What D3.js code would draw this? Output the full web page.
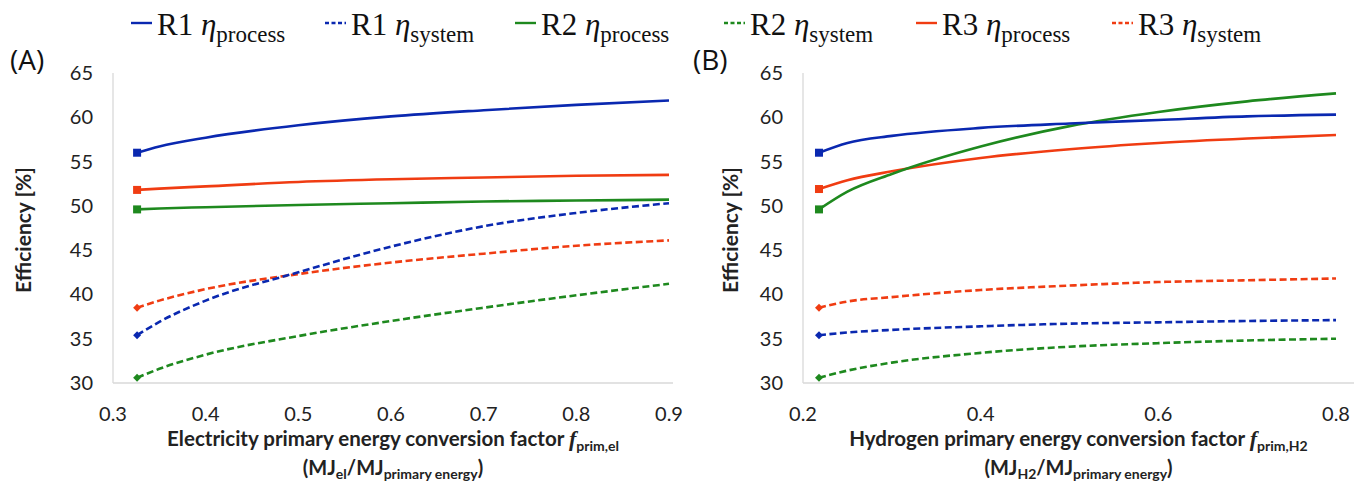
<!DOCTYPE html>
<html><head><meta charset="utf-8">
<script src="https://cdn.jsdelivr.net/npm/d3@7"></script>
<style>
html,body{margin:0;padding:0;background:#fff;}
svg{display:block;}
</style></head>
<body>
<svg id="chart" width="1354" height="487"></svg>
<script>
// ---------- data ----------
const xA = [0.326, 0.35, 0.4, 0.5, 0.6, 0.7, 0.8, 0.9];
const A_R1_process = [56.0, 56.7, 57.7, 59.1, 60.1, 60.8, 61.4, 61.9];
const A_R1_system  = [35.4, 36.9, 39.3, 42.5, 45.4, 47.7, 49.2, 50.3];
const A_R2_process = [49.6, 49.7, 49.85, 50.1, 50.3, 50.5, 50.6, 50.7];
const A_R2_system  = [30.6, 31.6, 33.2, 35.3, 37.0, 38.5, 39.9, 41.2];
const A_R3_process = [51.8, 51.95, 52.2, 52.7, 53.0, 53.2, 53.4, 53.5];
const A_R3_system  = [38.5, 39.3, 40.6, 42.3, 43.6, 44.6, 45.5, 46.1];

const xB = [0.218, 0.25, 0.3, 0.4, 0.5, 0.6, 0.7, 0.8];
const B_R1_process = [56.0, 57.1, 57.9, 58.8, 59.3, 59.7, 60.1, 60.3];
const B_R1_system  = [35.4, 35.7, 36.0, 36.4, 36.7, 36.85, 37.0, 37.1];
const B_R2_process = [49.6, 51.6, 53.6, 56.7, 59.0, 60.6, 61.8, 62.7];
const B_R2_system  = [30.6, 31.4, 32.3, 33.4, 34.1, 34.5, 34.8, 35.0];
const B_R3_process = [51.9, 52.9, 53.9, 55.4, 56.4, 57.1, 57.6, 58.0];
const B_R3_system  = [38.5, 39.2, 39.7, 40.5, 41.0, 41.4, 41.6, 41.8];

const xTicksA = [0.3, 0.4, 0.5, 0.6, 0.7, 0.8, 0.9];
const xTicksB = [0.2, 0.4, 0.6, 0.8];
const yTicks = [30, 35, 40, 45, 50, 55, 60, 65];

const seriesNames = ["R1", "R1", "R2", "R2", "R3", "R3"];
const seriesKinds = ["process", "system", "process", "system", "process", "system"];
const seriesColors = ["#0a28b0", "#0a28b0", "#1e891e", "#1e891e", "#f03c12", "#f03c12"];

// ---------- drawing ----------
const svg = d3.select("#chart");
const tickFont = "Lato, 'Open Sans', sans-serif";

const y = d3.scaleLinear().domain([30, 65]).range([383, 73]);

function panel(cfg) {
  const g = svg.append("g");
  const x = d3.scaleLinear().domain(cfg.xDomain).range(cfg.xRange);
  // axis lines
  g.append("line").attr("x1", cfg.xRange[0]).attr("x2", cfg.xRange[0])
    .attr("y1", y(65)).attr("y2", y(30)).attr("stroke", "#d9d9d9").attr("stroke-width", 1.3);
  g.append("line").attr("x1", cfg.xRange[0]).attr("x2", cfg.axisEnd)
    .attr("y1", y(30)).attr("y2", y(30)).attr("stroke", "#d9d9d9").attr("stroke-width", 1.3);
  // y tick labels
  g.selectAll(".yt").data(yTicks).enter().append("text")
    .attr("x", cfg.xRange[0] - 20).attr("y", d => y(d)).attr("dy", "0.35em")
    .attr("text-anchor", "end").attr("font-family", tickFont).attr("font-size", 20)
    .attr("fill", "#222").text(d => d);
  // x tick labels
  g.selectAll(".xt").data(cfg.xTicks).enter().append("text")
    .attr("x", d => x(d)).attr("y", 414).attr("dy", "0.35em")
    .attr("text-anchor", "middle").attr("font-family", tickFont).attr("font-size", 20)
    .attr("fill", "#222").text(d => d.toFixed(1));
  // y title
  g.append("text").attr("transform", `translate(${cfg.yTitleX},230) rotate(-90)`)
    .attr("text-anchor", "middle").attr("dy", "0.35em")
    .attr("font-family", tickFont).attr("font-weight", "bold").attr("font-size", 21)
    .attr("fill", "#222").text("Efficiency [%]");
  // panel label
  g.append("text").attr("x", cfg.labelX).attr("y", 60).attr("dy", "0.35em")
    .attr("font-family", "'Open Sans', sans-serif").attr("font-size", 28)
    .attr("fill", "#111").text(cfg.label);
  // x title
  const cx = (cfg.xRange[0] + cfg.axisEnd) / 2;
  const t1 = g.append("text").attr("x", cx).attr("y", 446).attr("text-anchor", "middle")
    .attr("font-family", tickFont).attr("font-weight", "bold").attr("font-size", 20.5).attr("fill", "#222");
  t1.append("tspan").text(cfg.title1);
  t1.append("tspan").attr("font-style", "italic").attr("font-family", "'Liberation Serif', serif").attr("font-size", 22).text("f");
  t1.append("tspan").attr("font-size", 14).attr("dy", 5).text(cfg.titleSub);
  const t2 = g.append("text").attr("x", cx).attr("y", 475).attr("text-anchor", "middle")
    .attr("font-family", tickFont).attr("font-weight", "bold").attr("font-size", 20).attr("fill", "#222");
  t2.append("tspan").text("(MJ");
  t2.append("tspan").attr("font-size", 14).attr("dy", 4).text(cfg.unitSub);
  t2.append("tspan").attr("dy", -4).text("/MJ");
  t2.append("tspan").attr("font-size", 14).attr("dy", 4).text("primary energy");
  t2.append("tspan").attr("dy", -4).text(")");

  // lines
  const line = d3.line().x(d => x(d[0])).y(d => y(d[1])).curve(d3.curveMonotoneX);
  const order = [4, 2, 0, 5, 1, 3];
  order.forEach(i => {
    const vals = cfg.series[i];
    const pts = cfg.xs.map((xv, k) => [xv, vals[k]]);
    const dashed = seriesKinds[i] === "system";
    g.append("path").datum(pts).attr("d", line).attr("fill", "none")
      .attr("stroke", seriesColors[i]).attr("stroke-width", 2.6)
      .attr("stroke-dasharray", dashed ? "7,3.5" : null);
    const p0 = pts[0];
    if (dashed) {
      g.append("path").attr("d", d3.symbol(d3.symbolDiamond2, 40)())
        .attr("transform", `translate(${x(p0[0])},${y(p0[1])})`).attr("fill", seriesColors[i]);
    } else {
      g.append("rect").attr("x", x(p0[0]) - 4).attr("y", y(p0[1]) - 4)
        .attr("width", 8).attr("height", 8).attr("fill", seriesColors[i]);
    }
  });
}

panel({
  xDomain: [0.3, 0.9], xRange: [113, 669], axisEnd: 673, xTicks: xTicksA, xs: xA,
  series: [A_R1_process, A_R1_system, A_R2_process, A_R2_system, A_R3_process, A_R3_system],
  yTitleX: 24, label: "(A)", labelX: 10,
  title1: "Electricity primary energy conversion factor ", titleSub: "prim,el", unitSub: "el"
});
panel({
  xDomain: [0.2, 0.8], xRange: [803, 1336], axisEnd: 1354, xTicks: xTicksB, xs: xB,
  series: [B_R1_process, B_R1_system, B_R2_process, B_R2_system, B_R3_process, B_R3_system],
  yTitleX: 731, label: "(B)", labelX: 693,
  title1: "Hydrogen primary energy conversion factor ", titleSub: "prim,H2", unitSub: "H2"
});

// legend
const legendX = [131, 325, 515, 724, 916, 1112];
const lg = svg.append("g");
seriesNames.forEach((nm, i) => {
  const lx = legendX[i];
  lg.append("line").attr("x1", lx).attr("x2", lx + 21).attr("y1", 23).attr("y2", 23)
    .attr("stroke", seriesColors[i]).attr("stroke-width", 2.4)
    .attr("stroke-dasharray", seriesKinds[i] === "system" ? "4,2.5" : null);
  const t = lg.append("text").attr("x", lx + 26).attr("y", 35)
    .attr("font-family", "'Liberation Serif', 'Times New Roman', serif").attr("font-size", 31).attr("fill", "#111");
  t.append("tspan").text(nm + " ");
  t.append("tspan").attr("font-style", "italic").text("η");
  t.append("tspan").attr("font-size", 23).attr("dy", 7).text(seriesKinds[i]);
});
</script>
</body></html>
